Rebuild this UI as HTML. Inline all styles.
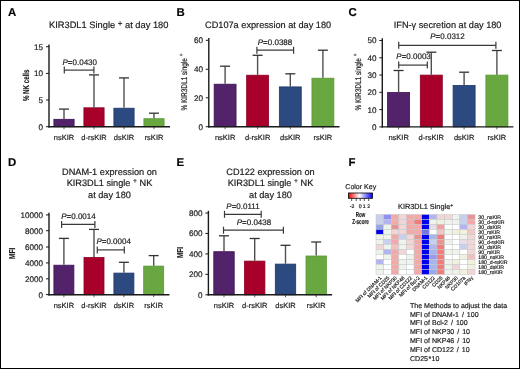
<!DOCTYPE html>
<html><head><meta charset="utf-8"><style>
html,body{margin:0;padding:0;background:#fff;}
body{width:520px;height:369px;overflow:hidden;}
svg{display:block;font-family:"Liberation Sans", sans-serif;will-change:transform;}
text{stroke:#1a1a1a;stroke-width:0.18px;text-rendering:geometricPrecision;}
</style></head><body>
<svg width="520" height="369" viewBox="0 0 520 369">
<rect x="0" y="0" width="520" height="369" fill="#fff"/>
<text x="8" y="16.3" font-size="11.4" text-anchor="start" font-weight="bold" font-style="normal" fill="#000" >A</text>
<text x="176.5" y="16.3" font-size="11.4" text-anchor="start" font-weight="bold" font-style="normal" fill="#000" >B</text>
<text x="348.4" y="16.3" font-size="11.4" text-anchor="start" font-weight="bold" font-style="normal" fill="#000" >C</text>
<text x="8" y="166.4" font-size="11.4" text-anchor="start" font-weight="bold" font-style="normal" fill="#000" >D</text>
<text x="176.5" y="166.4" font-size="11.4" text-anchor="start" font-weight="bold" font-style="normal" fill="#000" >E</text>
<text x="348.5" y="166.4" font-size="11.4" text-anchor="start" font-weight="bold" font-style="normal" fill="#000" >F</text>
<text x="108.7" y="27.5" font-size="9.3" text-anchor="middle" fill="#1a1a1a">KIR3DL1 Single <tspan font-size="8" dy="-1.5">+</tspan><tspan dy="1.5"> at day 180</tspan></text>
<text x="268.1" y="27.5" font-size="9.2" text-anchor="middle" font-weight="normal" font-style="normal" fill="#1a1a1a" >CD107a expression at day 180</text>
<text x="447.6" y="27.5" font-size="9.2" text-anchor="middle" font-weight="normal" font-style="normal" fill="#1a1a1a" >IFN-γ secretion at day 180</text>
<text x="109.5" y="175.0" font-size="9.2" text-anchor="middle" font-weight="normal" font-style="normal" fill="#1a1a1a" >DNAM-1 expression on</text>
<text x="109.5" y="186.2" font-size="9.2" text-anchor="middle" fill="#1a1a1a">KIR3DL1 single <tspan font-size="6.8" dy="-3.2">+</tspan><tspan dy="3.2"> NK</tspan></text>
<text x="109.5" y="197.6" font-size="9.2" text-anchor="middle" font-weight="normal" font-style="normal" fill="#1a1a1a" >at day 180</text>
<text x="270.5" y="175.0" font-size="9.2" text-anchor="middle" font-weight="normal" font-style="normal" fill="#1a1a1a" >CD122 expression on</text>
<text x="270.5" y="186.2" font-size="9.2" text-anchor="middle" fill="#1a1a1a">KIR3DL1 single <tspan font-size="6.8" dy="-3.2">+</tspan><tspan dy="3.2"> NK</tspan></text>
<text x="270.5" y="197.6" font-size="9.2" text-anchor="middle" font-weight="normal" font-style="normal" fill="#1a1a1a" >at day 180</text>
<rect x="53.90" y="119.30" width="20.20" height="7.40" fill="#52236a" stroke="#3d1254" stroke-width="0.8"/>
<line x1="64" y1="118.9" x2="64" y2="109.1" stroke="#505050" stroke-width="1.4"/>
<line x1="59.0" y1="109.1" x2="69.0" y2="109.1" stroke="#333" stroke-width="1.3"/>
<line x1="64" y1="126.7" x2="64" y2="129.2" stroke="#505050" stroke-width="0.9"/>
<rect x="83.90" y="107.80" width="20.20" height="18.90" fill="#a8002b" stroke="#8a0022" stroke-width="0.8"/>
<line x1="94" y1="107.4" x2="94" y2="74.9" stroke="#505050" stroke-width="1.4"/>
<line x1="89.0" y1="74.9" x2="99.0" y2="74.9" stroke="#333" stroke-width="1.3"/>
<line x1="94" y1="126.7" x2="94" y2="129.2" stroke="#505050" stroke-width="0.9"/>
<rect x="113.90" y="108.20" width="20.20" height="18.50" fill="#2d4a80" stroke="#1c3768" stroke-width="0.8"/>
<line x1="124" y1="107.8" x2="124" y2="77.9" stroke="#505050" stroke-width="1.4"/>
<line x1="119.0" y1="77.9" x2="129.0" y2="77.9" stroke="#333" stroke-width="1.3"/>
<line x1="124" y1="126.7" x2="124" y2="129.2" stroke="#505050" stroke-width="0.9"/>
<rect x="143.90" y="118.70" width="20.20" height="8.00" fill="#69a840" stroke="#5a9835" stroke-width="0.8"/>
<line x1="154" y1="118.3" x2="154" y2="113.2" stroke="#505050" stroke-width="1.4"/>
<line x1="149.0" y1="113.2" x2="159.0" y2="113.2" stroke="#333" stroke-width="1.3"/>
<line x1="154" y1="126.7" x2="154" y2="129.2" stroke="#505050" stroke-width="0.9"/>
<line x1="49" y1="44.5" x2="49" y2="127.4" stroke="#1a1a1a" stroke-width="1.4"/>
<line x1="48.3" y1="126.7" x2="170" y2="126.7" stroke="#1a1a1a" stroke-width="1.4"/>
<line x1="46" y1="126.7" x2="49" y2="126.7" stroke="#1a1a1a" stroke-width="1.0"/>
<text x="43.1" y="129.6" font-size="8.1" text-anchor="end" font-weight="normal" font-style="normal" fill="#1a1a1a" >0</text>
<line x1="46" y1="100.0" x2="49" y2="100.0" stroke="#1a1a1a" stroke-width="1.0"/>
<text x="43.1" y="102.9" font-size="8.1" text-anchor="end" font-weight="normal" font-style="normal" fill="#1a1a1a" >5</text>
<line x1="46" y1="73.4" x2="49" y2="73.4" stroke="#1a1a1a" stroke-width="1.0"/>
<text x="43.1" y="76.30000000000001" font-size="8.1" text-anchor="end" font-weight="normal" font-style="normal" fill="#1a1a1a" >10</text>
<line x1="46" y1="46.7" x2="49" y2="46.7" stroke="#1a1a1a" stroke-width="1.0"/>
<text x="43.1" y="49.6" font-size="8.1" text-anchor="end" font-weight="normal" font-style="normal" fill="#1a1a1a" >15</text>
<text x="64" y="139.9" font-size="7.5" text-anchor="middle" font-weight="normal" font-style="normal" fill="#1a1a1a" >nsKIR</text>
<text x="94" y="139.9" font-size="7.5" text-anchor="middle" font-weight="normal" font-style="normal" fill="#1a1a1a" >d-rsKIR</text>
<text x="124" y="139.9" font-size="7.5" text-anchor="middle" font-weight="normal" font-style="normal" fill="#1a1a1a" >dsKIR</text>
<text x="154" y="139.9" font-size="7.5" text-anchor="middle" font-weight="normal" font-style="normal" fill="#1a1a1a" >rsKIR</text>
<line x1="64.3" y1="70.1" x2="93.9" y2="70.1" stroke="#3a3a3a" stroke-width="1.2"/>
<line x1="64.3" y1="66.6" x2="64.3" y2="73.6" stroke="#3a3a3a" stroke-width="1.2"/>
<line x1="93.9" y1="66.6" x2="93.9" y2="73.6" stroke="#3a3a3a" stroke-width="1.2"/>
<text x="62.5" y="64.6" font-size="8.0" text-anchor="start" fill="#1a1a1a"><tspan font-style="italic">P</tspan>=0.0430</text>
<g transform="translate(26.0,85.3) rotate(-90) scale(0.72,1)"><text x="0" y="0" font-size="8.6" text-anchor="middle" font-weight="bold" fill="#1a1a1a" dominant-baseline="central">% NK cells</text></g>
<rect x="214.15" y="84.20" width="21.90" height="42.50" fill="#52236a" stroke="#3d1254" stroke-width="0.8"/>
<line x1="225.1" y1="83.8" x2="225.1" y2="66.2" stroke="#505050" stroke-width="1.4"/>
<line x1="220.1" y1="66.2" x2="230.1" y2="66.2" stroke="#333" stroke-width="1.3"/>
<line x1="225.1" y1="126.7" x2="225.1" y2="129.2" stroke="#505050" stroke-width="0.9"/>
<rect x="246.65" y="75.20" width="21.90" height="51.50" fill="#a8002b" stroke="#8a0022" stroke-width="0.8"/>
<line x1="257.6" y1="74.8" x2="257.6" y2="55.3" stroke="#505050" stroke-width="1.4"/>
<line x1="252.60000000000002" y1="55.3" x2="262.6" y2="55.3" stroke="#333" stroke-width="1.3"/>
<line x1="257.6" y1="126.7" x2="257.6" y2="129.2" stroke="#505050" stroke-width="0.9"/>
<rect x="279.35" y="86.90" width="21.90" height="39.80" fill="#2d4a80" stroke="#1c3768" stroke-width="0.8"/>
<line x1="290.3" y1="86.5" x2="290.3" y2="73.8" stroke="#505050" stroke-width="1.4"/>
<line x1="285.3" y1="73.8" x2="295.3" y2="73.8" stroke="#333" stroke-width="1.3"/>
<line x1="290.3" y1="126.7" x2="290.3" y2="129.2" stroke="#505050" stroke-width="0.9"/>
<rect x="311.95" y="78.20" width="21.90" height="48.50" fill="#69a840" stroke="#5a9835" stroke-width="0.8"/>
<line x1="322.9" y1="77.8" x2="322.9" y2="50.2" stroke="#505050" stroke-width="1.4"/>
<line x1="317.9" y1="50.2" x2="327.9" y2="50.2" stroke="#333" stroke-width="1.3"/>
<line x1="322.9" y1="126.7" x2="322.9" y2="129.2" stroke="#505050" stroke-width="0.9"/>
<line x1="208.8" y1="38.099999999999994" x2="208.8" y2="127.4" stroke="#1a1a1a" stroke-width="1.4"/>
<line x1="208.10000000000002" y1="126.7" x2="339.5" y2="126.7" stroke="#1a1a1a" stroke-width="1.4"/>
<line x1="205.8" y1="126.7" x2="208.8" y2="126.7" stroke="#1a1a1a" stroke-width="1.0"/>
<text x="202.9" y="129.6" font-size="8.1" text-anchor="end" font-weight="normal" font-style="normal" fill="#1a1a1a" >0</text>
<line x1="205.8" y1="97.8" x2="208.8" y2="97.8" stroke="#1a1a1a" stroke-width="1.0"/>
<text x="202.9" y="100.7" font-size="8.1" text-anchor="end" font-weight="normal" font-style="normal" fill="#1a1a1a" >20</text>
<line x1="205.8" y1="69.3" x2="208.8" y2="69.3" stroke="#1a1a1a" stroke-width="1.0"/>
<text x="202.9" y="72.2" font-size="8.1" text-anchor="end" font-weight="normal" font-style="normal" fill="#1a1a1a" >40</text>
<line x1="205.8" y1="40.3" x2="208.8" y2="40.3" stroke="#1a1a1a" stroke-width="1.0"/>
<text x="202.9" y="43.199999999999996" font-size="8.1" text-anchor="end" font-weight="normal" font-style="normal" fill="#1a1a1a" >60</text>
<text x="225.1" y="140.2" font-size="7.5" text-anchor="middle" font-weight="normal" font-style="normal" fill="#1a1a1a" >nsKIR</text>
<text x="257.6" y="140.2" font-size="7.5" text-anchor="middle" font-weight="normal" font-style="normal" fill="#1a1a1a" >d-rsKIR</text>
<text x="290.3" y="140.2" font-size="7.5" text-anchor="middle" font-weight="normal" font-style="normal" fill="#1a1a1a" >dsKIR</text>
<text x="322.9" y="140.2" font-size="7.5" text-anchor="middle" font-weight="normal" font-style="normal" fill="#1a1a1a" >rsKIR</text>
<line x1="256.9" y1="50.2" x2="293.6" y2="50.2" stroke="#3a3a3a" stroke-width="1.2"/>
<line x1="256.9" y1="46.7" x2="256.9" y2="53.7" stroke="#3a3a3a" stroke-width="1.2"/>
<line x1="293.6" y1="46.7" x2="293.6" y2="53.7" stroke="#3a3a3a" stroke-width="1.2"/>
<text x="275" y="44.5" font-size="8.0" text-anchor="middle" fill="#1a1a1a"><tspan font-style="italic">P</tspan>=0.0388</text>
<g transform="translate(184.4,82.1) rotate(-90) scale(0.78,1)"><text x="0" y="0" font-size="8.3" text-anchor="middle" font-weight="normal" fill="#1a1a1a" dominant-baseline="central">% KIR3DL1 single <tspan font-size="5.8" dy="-2.0">+</tspan></text></g>
<rect x="387.60" y="92.50" width="22.00" height="34.40" fill="#52236a" stroke="#3d1254" stroke-width="0.8"/>
<line x1="398.6" y1="92.1" x2="398.6" y2="70.5" stroke="#505050" stroke-width="1.4"/>
<line x1="393.6" y1="70.5" x2="403.6" y2="70.5" stroke="#333" stroke-width="1.3"/>
<line x1="398.6" y1="126.9" x2="398.6" y2="129.4" stroke="#505050" stroke-width="0.9"/>
<rect x="420.30" y="75.10" width="22.00" height="51.80" fill="#a8002b" stroke="#8a0022" stroke-width="0.8"/>
<line x1="431.3" y1="74.7" x2="431.3" y2="52.2" stroke="#505050" stroke-width="1.4"/>
<line x1="426.3" y1="52.2" x2="436.3" y2="52.2" stroke="#333" stroke-width="1.3"/>
<line x1="431.3" y1="126.9" x2="431.3" y2="129.4" stroke="#505050" stroke-width="0.9"/>
<rect x="453.10" y="85.40" width="22.00" height="41.50" fill="#2d4a80" stroke="#1c3768" stroke-width="0.8"/>
<line x1="464.1" y1="85.0" x2="464.1" y2="72.2" stroke="#505050" stroke-width="1.4"/>
<line x1="459.1" y1="72.2" x2="469.1" y2="72.2" stroke="#333" stroke-width="1.3"/>
<line x1="464.1" y1="126.9" x2="464.1" y2="129.4" stroke="#505050" stroke-width="0.9"/>
<rect x="485.90" y="75.10" width="22.00" height="51.80" fill="#69a840" stroke="#5a9835" stroke-width="0.8"/>
<line x1="496.9" y1="74.7" x2="496.9" y2="50.5" stroke="#505050" stroke-width="1.4"/>
<line x1="491.9" y1="50.5" x2="501.9" y2="50.5" stroke="#333" stroke-width="1.3"/>
<line x1="496.9" y1="126.9" x2="496.9" y2="129.4" stroke="#505050" stroke-width="0.9"/>
<line x1="382.3" y1="38.3" x2="382.3" y2="127.60000000000001" stroke="#1a1a1a" stroke-width="1.4"/>
<line x1="381.6" y1="126.9" x2="513.4" y2="126.9" stroke="#1a1a1a" stroke-width="1.4"/>
<line x1="379.3" y1="126.9" x2="382.3" y2="126.9" stroke="#1a1a1a" stroke-width="1.0"/>
<text x="376.40000000000003" y="129.8" font-size="8.1" text-anchor="end" font-weight="normal" font-style="normal" fill="#1a1a1a" >0</text>
<line x1="379.3" y1="109.62" x2="382.3" y2="109.62" stroke="#1a1a1a" stroke-width="1.0"/>
<text x="376.40000000000003" y="112.52000000000001" font-size="8.1" text-anchor="end" font-weight="normal" font-style="normal" fill="#1a1a1a" >10</text>
<line x1="379.3" y1="92.34" x2="382.3" y2="92.34" stroke="#1a1a1a" stroke-width="1.0"/>
<text x="376.40000000000003" y="95.24000000000001" font-size="8.1" text-anchor="end" font-weight="normal" font-style="normal" fill="#1a1a1a" >20</text>
<line x1="379.3" y1="75.06" x2="382.3" y2="75.06" stroke="#1a1a1a" stroke-width="1.0"/>
<text x="376.40000000000003" y="77.96000000000001" font-size="8.1" text-anchor="end" font-weight="normal" font-style="normal" fill="#1a1a1a" >30</text>
<line x1="379.3" y1="57.78" x2="382.3" y2="57.78" stroke="#1a1a1a" stroke-width="1.0"/>
<text x="376.40000000000003" y="60.68" font-size="8.1" text-anchor="end" font-weight="normal" font-style="normal" fill="#1a1a1a" >40</text>
<line x1="379.3" y1="40.5" x2="382.3" y2="40.5" stroke="#1a1a1a" stroke-width="1.0"/>
<text x="376.40000000000003" y="43.4" font-size="8.1" text-anchor="end" font-weight="normal" font-style="normal" fill="#1a1a1a" >50</text>
<text x="398.6" y="140.2" font-size="7.5" text-anchor="middle" font-weight="normal" font-style="normal" fill="#1a1a1a" >nsKIR</text>
<text x="431.3" y="140.2" font-size="7.5" text-anchor="middle" font-weight="normal" font-style="normal" fill="#1a1a1a" >d-rsKIR</text>
<text x="464.1" y="140.2" font-size="7.5" text-anchor="middle" font-weight="normal" font-style="normal" fill="#1a1a1a" >dsKIR</text>
<text x="496.9" y="140.2" font-size="7.5" text-anchor="middle" font-weight="normal" font-style="normal" fill="#1a1a1a" >rsKIR</text>
<line x1="398.7" y1="45.3" x2="495.9" y2="45.3" stroke="#3a3a3a" stroke-width="1.2"/>
<line x1="398.7" y1="41.8" x2="398.7" y2="48.8" stroke="#3a3a3a" stroke-width="1.2"/>
<line x1="495.9" y1="41.8" x2="495.9" y2="48.8" stroke="#3a3a3a" stroke-width="1.2"/>
<text x="447.5" y="39.1" font-size="8.0" text-anchor="middle" fill="#1a1a1a"><tspan font-style="italic">P</tspan>=0.0312</text>
<line x1="398.7" y1="65.1" x2="427.3" y2="65.1" stroke="#3a3a3a" stroke-width="1.2"/>
<line x1="398.7" y1="61.599999999999994" x2="398.7" y2="68.6" stroke="#3a3a3a" stroke-width="1.2"/>
<line x1="427.3" y1="61.599999999999994" x2="427.3" y2="68.6" stroke="#3a3a3a" stroke-width="1.2"/>
<text x="396.3" y="59.3" font-size="8.0" text-anchor="start" fill="#1a1a1a"><tspan font-style="italic">P</tspan>=0.0003</text>
<g transform="translate(358.4,82.1) rotate(-90) scale(0.78,1)"><text x="0" y="0" font-size="8.3" text-anchor="middle" font-weight="normal" fill="#1a1a1a" dominant-baseline="central">% KIR3DL1 single <tspan font-size="5.8" dy="-2.0">+</tspan></text></g>
<rect x="53.90" y="265.20" width="20.00" height="29.50" fill="#52236a" stroke="#3d1254" stroke-width="0.8"/>
<line x1="63.9" y1="264.8" x2="63.9" y2="238.4" stroke="#505050" stroke-width="1.4"/>
<line x1="58.9" y1="238.4" x2="68.9" y2="238.4" stroke="#333" stroke-width="1.3"/>
<line x1="63.9" y1="294.7" x2="63.9" y2="297.2" stroke="#505050" stroke-width="0.9"/>
<rect x="84.00" y="257.50" width="20.00" height="37.20" fill="#a8002b" stroke="#8a0022" stroke-width="0.8"/>
<line x1="94" y1="257.1" x2="94" y2="229.4" stroke="#505050" stroke-width="1.4"/>
<line x1="89.0" y1="229.4" x2="99.0" y2="229.4" stroke="#333" stroke-width="1.3"/>
<line x1="94" y1="294.7" x2="94" y2="297.2" stroke="#505050" stroke-width="0.9"/>
<rect x="113.90" y="273.10" width="20.00" height="21.60" fill="#2d4a80" stroke="#1c3768" stroke-width="0.8"/>
<line x1="123.9" y1="272.7" x2="123.9" y2="262.3" stroke="#505050" stroke-width="1.4"/>
<line x1="118.9" y1="262.3" x2="128.9" y2="262.3" stroke="#333" stroke-width="1.3"/>
<line x1="123.9" y1="294.7" x2="123.9" y2="297.2" stroke="#505050" stroke-width="0.9"/>
<rect x="143.70" y="266.10" width="20.00" height="28.60" fill="#69a840" stroke="#5a9835" stroke-width="0.8"/>
<line x1="153.7" y1="265.7" x2="153.7" y2="255.6" stroke="#505050" stroke-width="1.4"/>
<line x1="148.7" y1="255.6" x2="158.7" y2="255.6" stroke="#333" stroke-width="1.3"/>
<line x1="153.7" y1="294.7" x2="153.7" y2="297.2" stroke="#505050" stroke-width="0.9"/>
<line x1="49.0" y1="212.70000000000002" x2="49.0" y2="295.4" stroke="#1a1a1a" stroke-width="1.4"/>
<line x1="48.3" y1="294.7" x2="169.4" y2="294.7" stroke="#1a1a1a" stroke-width="1.4"/>
<line x1="46.0" y1="294.6" x2="49.0" y2="294.6" stroke="#1a1a1a" stroke-width="1.0"/>
<text x="43.1" y="297.5" font-size="8.1" text-anchor="end" font-weight="normal" font-style="normal" fill="#1a1a1a" >0</text>
<line x1="46.0" y1="278.8" x2="49.0" y2="278.8" stroke="#1a1a1a" stroke-width="1.0"/>
<text x="43.1" y="281.7" font-size="8.1" text-anchor="end" font-weight="normal" font-style="normal" fill="#1a1a1a" >2000</text>
<line x1="46.0" y1="262.9" x2="49.0" y2="262.9" stroke="#1a1a1a" stroke-width="1.0"/>
<text x="43.1" y="265.79999999999995" font-size="8.1" text-anchor="end" font-weight="normal" font-style="normal" fill="#1a1a1a" >4000</text>
<line x1="46.0" y1="247.0" x2="49.0" y2="247.0" stroke="#1a1a1a" stroke-width="1.0"/>
<text x="43.1" y="249.9" font-size="8.1" text-anchor="end" font-weight="normal" font-style="normal" fill="#1a1a1a" >6000</text>
<line x1="46.0" y1="230.7" x2="49.0" y2="230.7" stroke="#1a1a1a" stroke-width="1.0"/>
<text x="43.1" y="233.6" font-size="8.1" text-anchor="end" font-weight="normal" font-style="normal" fill="#1a1a1a" >8000</text>
<line x1="46.0" y1="214.9" x2="49.0" y2="214.9" stroke="#1a1a1a" stroke-width="1.0"/>
<text x="43.1" y="217.8" font-size="8.1" text-anchor="end" font-weight="normal" font-style="normal" fill="#1a1a1a" >10000</text>
<text x="63.9" y="308.0" font-size="7.5" text-anchor="middle" font-weight="normal" font-style="normal" fill="#1a1a1a" >nsKIR</text>
<text x="94" y="308.0" font-size="7.5" text-anchor="middle" font-weight="normal" font-style="normal" fill="#1a1a1a" >d-rsKIR</text>
<text x="123.9" y="308.0" font-size="7.5" text-anchor="middle" font-weight="normal" font-style="normal" fill="#1a1a1a" >dsKIR</text>
<text x="153.7" y="308.0" font-size="7.5" text-anchor="middle" font-weight="normal" font-style="normal" fill="#1a1a1a" >rsKIR</text>
<line x1="61.6" y1="224.4" x2="94.9" y2="224.4" stroke="#3a3a3a" stroke-width="1.2"/>
<line x1="61.6" y1="220.9" x2="61.6" y2="227.9" stroke="#3a3a3a" stroke-width="1.2"/>
<line x1="94.9" y1="220.9" x2="94.9" y2="227.9" stroke="#3a3a3a" stroke-width="1.2"/>
<text x="61.2" y="218.9" font-size="8.0" text-anchor="start" fill="#1a1a1a"><tspan font-style="italic">P</tspan>=0.0014</text>
<line x1="97.3" y1="249.9" x2="124.3" y2="249.9" stroke="#3a3a3a" stroke-width="1.2"/>
<line x1="97.3" y1="246.4" x2="97.3" y2="253.4" stroke="#3a3a3a" stroke-width="1.2"/>
<line x1="124.3" y1="246.4" x2="124.3" y2="253.4" stroke="#3a3a3a" stroke-width="1.2"/>
<text x="96.4" y="244.2" font-size="8.0" text-anchor="start" fill="#1a1a1a"><tspan font-style="italic">P</tspan>=0.0004</text>
<g transform="translate(11.6,253.4) rotate(-90) scale(0.76,1)"><text x="0" y="0" font-size="8.6" text-anchor="middle" font-weight="bold" fill="#1a1a1a" dominant-baseline="central">MFI</text></g>
<rect x="213.80" y="251.70" width="20.40" height="43.10" fill="#52236a" stroke="#3d1254" stroke-width="0.8"/>
<line x1="224" y1="251.3" x2="224" y2="235.8" stroke="#505050" stroke-width="1.4"/>
<line x1="219.0" y1="235.8" x2="229.0" y2="235.8" stroke="#333" stroke-width="1.3"/>
<line x1="224" y1="294.8" x2="224" y2="297.3" stroke="#505050" stroke-width="0.9"/>
<rect x="244.50" y="261.10" width="20.40" height="33.70" fill="#a8002b" stroke="#8a0022" stroke-width="0.8"/>
<line x1="254.7" y1="260.7" x2="254.7" y2="238.5" stroke="#505050" stroke-width="1.4"/>
<line x1="249.7" y1="238.5" x2="259.7" y2="238.5" stroke="#333" stroke-width="1.3"/>
<line x1="254.7" y1="294.8" x2="254.7" y2="297.3" stroke="#505050" stroke-width="0.9"/>
<rect x="275.30" y="264.10" width="20.40" height="30.70" fill="#2d4a80" stroke="#1c3768" stroke-width="0.8"/>
<line x1="285.5" y1="263.7" x2="285.5" y2="245.3" stroke="#505050" stroke-width="1.4"/>
<line x1="280.5" y1="245.3" x2="290.5" y2="245.3" stroke="#333" stroke-width="1.3"/>
<line x1="285.5" y1="294.8" x2="285.5" y2="297.3" stroke="#505050" stroke-width="0.9"/>
<rect x="306.00" y="256.00" width="20.40" height="38.80" fill="#69a840" stroke="#5a9835" stroke-width="0.8"/>
<line x1="316.2" y1="255.6" x2="316.2" y2="242.0" stroke="#505050" stroke-width="1.4"/>
<line x1="311.2" y1="242.0" x2="321.2" y2="242.0" stroke="#333" stroke-width="1.3"/>
<line x1="316.2" y1="294.8" x2="316.2" y2="297.3" stroke="#505050" stroke-width="0.9"/>
<line x1="208.4" y1="210.8" x2="208.4" y2="295.5" stroke="#1a1a1a" stroke-width="1.4"/>
<line x1="207.70000000000002" y1="294.8" x2="332.1" y2="294.8" stroke="#1a1a1a" stroke-width="1.4"/>
<line x1="205.4" y1="294.8" x2="208.4" y2="294.8" stroke="#1a1a1a" stroke-width="1.0"/>
<text x="202.5" y="297.7" font-size="8.1" text-anchor="end" font-weight="normal" font-style="normal" fill="#1a1a1a" >0</text>
<line x1="205.4" y1="274.35" x2="208.4" y2="274.35" stroke="#1a1a1a" stroke-width="1.0"/>
<text x="202.5" y="277.25" font-size="8.1" text-anchor="end" font-weight="normal" font-style="normal" fill="#1a1a1a" >200</text>
<line x1="205.4" y1="253.9" x2="208.4" y2="253.9" stroke="#1a1a1a" stroke-width="1.0"/>
<text x="202.5" y="256.8" font-size="8.1" text-anchor="end" font-weight="normal" font-style="normal" fill="#1a1a1a" >400</text>
<line x1="205.4" y1="233.45000000000002" x2="208.4" y2="233.45000000000002" stroke="#1a1a1a" stroke-width="1.0"/>
<text x="202.5" y="236.35000000000002" font-size="8.1" text-anchor="end" font-weight="normal" font-style="normal" fill="#1a1a1a" >600</text>
<line x1="205.4" y1="213.0" x2="208.4" y2="213.0" stroke="#1a1a1a" stroke-width="1.0"/>
<text x="202.5" y="215.9" font-size="8.1" text-anchor="end" font-weight="normal" font-style="normal" fill="#1a1a1a" >800</text>
<text x="224" y="308.0" font-size="7.5" text-anchor="middle" font-weight="normal" font-style="normal" fill="#1a1a1a" >nsKIR</text>
<text x="254.7" y="308.0" font-size="7.5" text-anchor="middle" font-weight="normal" font-style="normal" fill="#1a1a1a" >d-rsKIR</text>
<text x="285.5" y="308.0" font-size="7.5" text-anchor="middle" font-weight="normal" font-style="normal" fill="#1a1a1a" >dsKIR</text>
<text x="316.2" y="308.0" font-size="7.5" text-anchor="middle" font-weight="normal" font-style="normal" fill="#1a1a1a" >rsKIR</text>
<line x1="224.5" y1="214.3" x2="261.2" y2="214.3" stroke="#3a3a3a" stroke-width="1.2"/>
<line x1="224.5" y1="210.8" x2="224.5" y2="217.8" stroke="#3a3a3a" stroke-width="1.2"/>
<line x1="261.2" y1="210.8" x2="261.2" y2="217.8" stroke="#3a3a3a" stroke-width="1.2"/>
<text x="226.3" y="209.0" font-size="8.0" text-anchor="start" fill="#1a1a1a"><tspan font-style="italic">P</tspan>=0.0111</text>
<line x1="223.5" y1="230.2" x2="283.4" y2="230.2" stroke="#3a3a3a" stroke-width="1.2"/>
<line x1="223.5" y1="226.7" x2="223.5" y2="233.7" stroke="#3a3a3a" stroke-width="1.2"/>
<line x1="283.4" y1="226.7" x2="283.4" y2="233.7" stroke="#3a3a3a" stroke-width="1.2"/>
<text x="236.7" y="225.2" font-size="8.0" text-anchor="start" fill="#1a1a1a"><tspan font-style="italic">P</tspan>=0.0438</text>
<g transform="translate(180.3,252.5) rotate(-90) scale(0.76,1)"><text x="0" y="0" font-size="8.6" text-anchor="middle" font-weight="bold" fill="#1a1a1a" dominant-baseline="central">MFI</text></g>
<defs><linearGradient id="ck" x1="0" x2="1" y1="0" y2="0"><stop offset="0" stop-color="#ff0000"/><stop offset="0.45" stop-color="#ffffff"/><stop offset="1" stop-color="#0000ff"/></linearGradient></defs>
<text x="345.3" y="188.6" font-size="7.05" text-anchor="start" font-weight="normal" font-style="normal" fill="#1a1a1a" >Color Key</text>
<rect x="348.5" y="193" width="24" height="5.3" fill="url(#ck)" stroke="#000" stroke-width="0.8"/>
<line x1="351.7" y1="198.3" x2="351.7" y2="201.0" stroke="#222" stroke-width="0.8"/>
<line x1="356.2" y1="198.3" x2="356.2" y2="201.0" stroke="#222" stroke-width="0.8"/>
<line x1="360.2" y1="198.3" x2="360.2" y2="201.0" stroke="#222" stroke-width="0.8"/>
<line x1="364.3" y1="198.3" x2="364.3" y2="201.0" stroke="#222" stroke-width="0.8"/>
<line x1="368.7" y1="198.3" x2="368.7" y2="201.0" stroke="#222" stroke-width="0.8"/>
<text x="352" y="207.5" font-size="5.2" text-anchor="middle" font-weight="normal" font-style="normal" fill="#1a1a1a" >-2</text>
<text x="360.2" y="207.5" font-size="5.2" text-anchor="middle" font-weight="normal" font-style="normal" fill="#1a1a1a" >0</text>
<text x="364.3" y="207.5" font-size="5.2" text-anchor="middle" font-weight="normal" font-style="normal" fill="#1a1a1a" >1</text>
<text x="368.7" y="207.5" font-size="5.2" text-anchor="middle" font-weight="normal" font-style="normal" fill="#1a1a1a" >2</text>
<text x="360.6" y="217.2" font-size="7.2" text-anchor="middle" font-weight="bold" font-style="normal" fill="#1a1a1a" transform="translate(360.6,0) scale(0.63,1) translate(-360.6,0)">Row</text>
<text x="360.5" y="224.2" font-size="7.2" text-anchor="middle" font-weight="bold" font-style="normal" fill="#1a1a1a" transform="translate(360.5,0) scale(0.64,1) translate(-360.5,0)">Z-score</text>
<text x="398" y="209.1" font-size="7.35" fill="#1a1a1a">KIR3DL1 Single<tspan font-size="5.2" dy="-2.6">+</tspan></text>
<rect x="376.00" y="214.50" width="7.62" height="5.00" fill="#c8d0ee" stroke="#c4c8c8" stroke-width="0.5"/>
<rect x="383.62" y="214.50" width="7.62" height="5.00" fill="#9090ee" stroke="#c4c8c8" stroke-width="0.5"/>
<rect x="391.24" y="214.50" width="7.62" height="5.00" fill="#f4a8a8" stroke="#c4c8c8" stroke-width="0.5"/>
<rect x="398.86" y="214.50" width="7.62" height="5.00" fill="#f0d6d6" stroke="#c4c8c8" stroke-width="0.5"/>
<rect x="406.48" y="214.50" width="7.62" height="5.00" fill="#f4a8a8" stroke="#c4c8c8" stroke-width="0.5"/>
<rect x="414.10" y="214.50" width="7.62" height="5.00" fill="#f4a8a8" stroke="#c4c8c8" stroke-width="0.5"/>
<rect x="421.72" y="214.50" width="7.62" height="5.00" fill="#0000ee" stroke="#c4c8c8" stroke-width="0.5"/>
<rect x="429.34" y="214.50" width="7.62" height="5.00" fill="#b4b4f0" stroke="#c4c8c8" stroke-width="0.5"/>
<rect x="436.96" y="214.50" width="7.62" height="5.00" fill="#f0d6d6" stroke="#c4c8c8" stroke-width="0.5"/>
<rect x="444.58" y="214.50" width="7.62" height="5.00" fill="#f0d6d6" stroke="#c4c8c8" stroke-width="0.5"/>
<rect x="452.20" y="214.50" width="7.62" height="5.00" fill="#eef4ec" stroke="#c4c8c8" stroke-width="0.5"/>
<rect x="459.82" y="214.50" width="7.62" height="5.00" fill="#c8d0ee" stroke="#c4c8c8" stroke-width="0.5"/>
<rect x="467.44" y="214.50" width="7.62" height="5.00" fill="#e89494" stroke="#c4c8c8" stroke-width="0.5"/>
<rect x="376.00" y="219.50" width="7.62" height="5.00" fill="#c8d0ee" stroke="#c4c8c8" stroke-width="0.5"/>
<rect x="383.62" y="219.50" width="7.62" height="5.00" fill="#b4b4f0" stroke="#c4c8c8" stroke-width="0.5"/>
<rect x="391.24" y="219.50" width="7.62" height="5.00" fill="#f4a8a8" stroke="#c4c8c8" stroke-width="0.5"/>
<rect x="398.86" y="219.50" width="7.62" height="5.00" fill="#f0d6d6" stroke="#c4c8c8" stroke-width="0.5"/>
<rect x="406.48" y="219.50" width="7.62" height="5.00" fill="#f4a8a8" stroke="#c4c8c8" stroke-width="0.5"/>
<rect x="414.10" y="219.50" width="7.62" height="5.00" fill="#f07c7c" stroke="#c4c8c8" stroke-width="0.5"/>
<rect x="421.72" y="219.50" width="7.62" height="5.00" fill="#0000ee" stroke="#c4c8c8" stroke-width="0.5"/>
<rect x="429.34" y="219.50" width="7.62" height="5.00" fill="#eef4ec" stroke="#c4c8c8" stroke-width="0.5"/>
<rect x="436.96" y="219.50" width="7.62" height="5.00" fill="#f2f0de" stroke="#c4c8c8" stroke-width="0.5"/>
<rect x="444.58" y="219.50" width="7.62" height="5.00" fill="#eef4ec" stroke="#c4c8c8" stroke-width="0.5"/>
<rect x="452.20" y="219.50" width="7.62" height="5.00" fill="#eef4ec" stroke="#c4c8c8" stroke-width="0.5"/>
<rect x="459.82" y="219.50" width="7.62" height="5.00" fill="#c8d0ee" stroke="#c4c8c8" stroke-width="0.5"/>
<rect x="467.44" y="219.50" width="7.62" height="5.00" fill="#f4a8a8" stroke="#c4c8c8" stroke-width="0.5"/>
<rect x="376.00" y="224.50" width="7.62" height="5.00" fill="#98a4ea" stroke="#c4c8c8" stroke-width="0.5"/>
<rect x="383.62" y="224.50" width="7.62" height="5.00" fill="#eef4ec" stroke="#c4c8c8" stroke-width="0.5"/>
<rect x="391.24" y="224.50" width="7.62" height="5.00" fill="#e89494" stroke="#c4c8c8" stroke-width="0.5"/>
<rect x="398.86" y="224.50" width="7.62" height="5.00" fill="#f0d6d6" stroke="#c4c8c8" stroke-width="0.5"/>
<rect x="406.48" y="224.50" width="7.62" height="5.00" fill="#f4a8a8" stroke="#c4c8c8" stroke-width="0.5"/>
<rect x="414.10" y="224.50" width="7.62" height="5.00" fill="#f4a8a8" stroke="#c4c8c8" stroke-width="0.5"/>
<rect x="421.72" y="224.50" width="7.62" height="5.00" fill="#0000ee" stroke="#c4c8c8" stroke-width="0.5"/>
<rect x="429.34" y="224.50" width="7.62" height="5.00" fill="#e8dce8" stroke="#c4c8c8" stroke-width="0.5"/>
<rect x="436.96" y="224.50" width="7.62" height="5.00" fill="#f4a0a0" stroke="#c4c8c8" stroke-width="0.5"/>
<rect x="444.58" y="224.50" width="7.62" height="5.00" fill="#ffffff" stroke="#c4c8c8" stroke-width="0.5"/>
<rect x="452.20" y="224.50" width="7.62" height="5.00" fill="#ffffff" stroke="#c4c8c8" stroke-width="0.5"/>
<rect x="459.82" y="224.50" width="7.62" height="5.00" fill="#b4b4f0" stroke="#c4c8c8" stroke-width="0.5"/>
<rect x="467.44" y="224.50" width="7.62" height="5.00" fill="#f0d6d6" stroke="#c4c8c8" stroke-width="0.5"/>
<rect x="376.00" y="229.50" width="7.62" height="5.00" fill="#0000ee" stroke="#c4c8c8" stroke-width="0.5"/>
<rect x="383.62" y="229.50" width="7.62" height="5.00" fill="#eef4ec" stroke="#c4c8c8" stroke-width="0.5"/>
<rect x="391.24" y="229.50" width="7.62" height="5.00" fill="#f0d6d6" stroke="#c4c8c8" stroke-width="0.5"/>
<rect x="398.86" y="229.50" width="7.62" height="5.00" fill="#f0d6d6" stroke="#c4c8c8" stroke-width="0.5"/>
<rect x="406.48" y="229.50" width="7.62" height="5.00" fill="#f4a8a8" stroke="#c4c8c8" stroke-width="0.5"/>
<rect x="414.10" y="229.50" width="7.62" height="5.00" fill="#f4a8a8" stroke="#c4c8c8" stroke-width="0.5"/>
<rect x="421.72" y="229.50" width="7.62" height="5.00" fill="#7474e2" stroke="#c4c8c8" stroke-width="0.5"/>
<rect x="429.34" y="229.50" width="7.62" height="5.00" fill="#ffffff" stroke="#c4c8c8" stroke-width="0.5"/>
<rect x="436.96" y="229.50" width="7.62" height="5.00" fill="#f0c4c4" stroke="#c4c8c8" stroke-width="0.5"/>
<rect x="444.58" y="229.50" width="7.62" height="5.00" fill="#eef4ec" stroke="#c4c8c8" stroke-width="0.5"/>
<rect x="452.20" y="229.50" width="7.62" height="5.00" fill="#f2f0de" stroke="#c4c8c8" stroke-width="0.5"/>
<rect x="459.82" y="229.50" width="7.62" height="5.00" fill="#f2f0de" stroke="#c4c8c8" stroke-width="0.5"/>
<rect x="467.44" y="229.50" width="7.62" height="5.00" fill="#f0c8c8" stroke="#c4c8c8" stroke-width="0.5"/>
<rect x="376.00" y="234.50" width="7.62" height="5.00" fill="#eef4ec" stroke="#c4c8c8" stroke-width="0.5"/>
<rect x="383.62" y="234.50" width="7.62" height="5.00" fill="#eef4ec" stroke="#c4c8c8" stroke-width="0.5"/>
<rect x="391.24" y="234.50" width="7.62" height="5.00" fill="#f4a8a8" stroke="#c4c8c8" stroke-width="0.5"/>
<rect x="398.86" y="234.50" width="7.62" height="5.00" fill="#c8d0ee" stroke="#c4c8c8" stroke-width="0.5"/>
<rect x="406.48" y="234.50" width="7.62" height="5.00" fill="#f0d6d6" stroke="#c4c8c8" stroke-width="0.5"/>
<rect x="414.10" y="234.50" width="7.62" height="5.00" fill="#e89494" stroke="#c4c8c8" stroke-width="0.5"/>
<rect x="421.72" y="234.50" width="7.62" height="5.00" fill="#0000ee" stroke="#c4c8c8" stroke-width="0.5"/>
<rect x="429.34" y="234.50" width="7.62" height="5.00" fill="#a8b4f0" stroke="#c4c8c8" stroke-width="0.5"/>
<rect x="436.96" y="234.50" width="7.62" height="5.00" fill="#f07c7c" stroke="#c4c8c8" stroke-width="0.5"/>
<rect x="444.58" y="234.50" width="7.62" height="5.00" fill="#ffffff" stroke="#c4c8c8" stroke-width="0.5"/>
<rect x="452.20" y="234.50" width="7.62" height="5.00" fill="#ffffff" stroke="#c4c8c8" stroke-width="0.5"/>
<rect x="459.82" y="234.50" width="7.62" height="5.00" fill="#eef4ec" stroke="#c4c8c8" stroke-width="0.5"/>
<rect x="467.44" y="234.50" width="7.62" height="5.00" fill="#f0d6d6" stroke="#c4c8c8" stroke-width="0.5"/>
<rect x="376.00" y="239.50" width="7.62" height="5.00" fill="#eef4ec" stroke="#c4c8c8" stroke-width="0.5"/>
<rect x="383.62" y="239.50" width="7.62" height="5.00" fill="#c8d0ee" stroke="#c4c8c8" stroke-width="0.5"/>
<rect x="391.24" y="239.50" width="7.62" height="5.00" fill="#f4a8a8" stroke="#c4c8c8" stroke-width="0.5"/>
<rect x="398.86" y="239.50" width="7.62" height="5.00" fill="#eef4ec" stroke="#c4c8c8" stroke-width="0.5"/>
<rect x="406.48" y="239.50" width="7.62" height="5.00" fill="#f0d6d6" stroke="#c4c8c8" stroke-width="0.5"/>
<rect x="414.10" y="239.50" width="7.62" height="5.00" fill="#f4a8a8" stroke="#c4c8c8" stroke-width="0.5"/>
<rect x="421.72" y="239.50" width="7.62" height="5.00" fill="#0000ee" stroke="#c4c8c8" stroke-width="0.5"/>
<rect x="429.34" y="239.50" width="7.62" height="5.00" fill="#c8d0ee" stroke="#c4c8c8" stroke-width="0.5"/>
<rect x="436.96" y="239.50" width="7.62" height="5.00" fill="#e89494" stroke="#c4c8c8" stroke-width="0.5"/>
<rect x="444.58" y="239.50" width="7.62" height="5.00" fill="#eef4ec" stroke="#c4c8c8" stroke-width="0.5"/>
<rect x="452.20" y="239.50" width="7.62" height="5.00" fill="#ffffff" stroke="#c4c8c8" stroke-width="0.5"/>
<rect x="459.82" y="239.50" width="7.62" height="5.00" fill="#e8dce8" stroke="#c4c8c8" stroke-width="0.5"/>
<rect x="467.44" y="239.50" width="7.62" height="5.00" fill="#f0d6d6" stroke="#c4c8c8" stroke-width="0.5"/>
<rect x="376.00" y="244.50" width="7.62" height="5.00" fill="#f0d6d6" stroke="#c4c8c8" stroke-width="0.5"/>
<rect x="383.62" y="244.50" width="7.62" height="5.00" fill="#eef4ec" stroke="#c4c8c8" stroke-width="0.5"/>
<rect x="391.24" y="244.50" width="7.62" height="5.00" fill="#f0c0c0" stroke="#c4c8c8" stroke-width="0.5"/>
<rect x="398.86" y="244.50" width="7.62" height="5.00" fill="#eef4ec" stroke="#c4c8c8" stroke-width="0.5"/>
<rect x="406.48" y="244.50" width="7.62" height="5.00" fill="#f0d6d6" stroke="#c4c8c8" stroke-width="0.5"/>
<rect x="414.10" y="244.50" width="7.62" height="5.00" fill="#f4a8a8" stroke="#c4c8c8" stroke-width="0.5"/>
<rect x="421.72" y="244.50" width="7.62" height="5.00" fill="#0000ee" stroke="#c4c8c8" stroke-width="0.5"/>
<rect x="429.34" y="244.50" width="7.62" height="5.00" fill="#b4b4f0" stroke="#c4c8c8" stroke-width="0.5"/>
<rect x="436.96" y="244.50" width="7.62" height="5.00" fill="#f07c7c" stroke="#c4c8c8" stroke-width="0.5"/>
<rect x="444.58" y="244.50" width="7.62" height="5.00" fill="#ffffff" stroke="#c4c8c8" stroke-width="0.5"/>
<rect x="452.20" y="244.50" width="7.62" height="5.00" fill="#ffffff" stroke="#c4c8c8" stroke-width="0.5"/>
<rect x="459.82" y="244.50" width="7.62" height="5.00" fill="#c8d0ee" stroke="#c4c8c8" stroke-width="0.5"/>
<rect x="467.44" y="244.50" width="7.62" height="5.00" fill="#f0d6d6" stroke="#c4c8c8" stroke-width="0.5"/>
<rect x="376.00" y="249.50" width="7.62" height="5.00" fill="#eef4ec" stroke="#c4c8c8" stroke-width="0.5"/>
<rect x="383.62" y="249.50" width="7.62" height="5.00" fill="#b4b4f0" stroke="#c4c8c8" stroke-width="0.5"/>
<rect x="391.24" y="249.50" width="7.62" height="5.00" fill="#f4a8a8" stroke="#c4c8c8" stroke-width="0.5"/>
<rect x="398.86" y="249.50" width="7.62" height="5.00" fill="#f0d6d6" stroke="#c4c8c8" stroke-width="0.5"/>
<rect x="406.48" y="249.50" width="7.62" height="5.00" fill="#ffffff" stroke="#c4c8c8" stroke-width="0.5"/>
<rect x="414.10" y="249.50" width="7.62" height="5.00" fill="#f4a8a8" stroke="#c4c8c8" stroke-width="0.5"/>
<rect x="421.72" y="249.50" width="7.62" height="5.00" fill="#0000ee" stroke="#c4c8c8" stroke-width="0.5"/>
<rect x="429.34" y="249.50" width="7.62" height="5.00" fill="#a8b4f0" stroke="#c4c8c8" stroke-width="0.5"/>
<rect x="436.96" y="249.50" width="7.62" height="5.00" fill="#f07c7c" stroke="#c4c8c8" stroke-width="0.5"/>
<rect x="444.58" y="249.50" width="7.62" height="5.00" fill="#eef4ec" stroke="#c4c8c8" stroke-width="0.5"/>
<rect x="452.20" y="249.50" width="7.62" height="5.00" fill="#eef4ec" stroke="#c4c8c8" stroke-width="0.5"/>
<rect x="459.82" y="249.50" width="7.62" height="5.00" fill="#ffffff" stroke="#c4c8c8" stroke-width="0.5"/>
<rect x="467.44" y="249.50" width="7.62" height="5.00" fill="#f0d6d6" stroke="#c4c8c8" stroke-width="0.5"/>
<rect x="376.00" y="254.50" width="7.62" height="5.00" fill="#ffffff" stroke="#c4c8c8" stroke-width="0.5"/>
<rect x="383.62" y="254.50" width="7.62" height="5.00" fill="#eef4ec" stroke="#c4c8c8" stroke-width="0.5"/>
<rect x="391.24" y="254.50" width="7.62" height="5.00" fill="#f4a8a8" stroke="#c4c8c8" stroke-width="0.5"/>
<rect x="398.86" y="254.50" width="7.62" height="5.00" fill="#ffffff" stroke="#c4c8c8" stroke-width="0.5"/>
<rect x="406.48" y="254.50" width="7.62" height="5.00" fill="#eef4ec" stroke="#c4c8c8" stroke-width="0.5"/>
<rect x="414.10" y="254.50" width="7.62" height="5.00" fill="#f4a8a8" stroke="#c4c8c8" stroke-width="0.5"/>
<rect x="421.72" y="254.50" width="7.62" height="5.00" fill="#0000ee" stroke="#c4c8c8" stroke-width="0.5"/>
<rect x="429.34" y="254.50" width="7.62" height="5.00" fill="#9898f0" stroke="#c4c8c8" stroke-width="0.5"/>
<rect x="436.96" y="254.50" width="7.62" height="5.00" fill="#f07c7c" stroke="#c4c8c8" stroke-width="0.5"/>
<rect x="444.58" y="254.50" width="7.62" height="5.00" fill="#ffffff" stroke="#c4c8c8" stroke-width="0.5"/>
<rect x="452.20" y="254.50" width="7.62" height="5.00" fill="#ffffff" stroke="#c4c8c8" stroke-width="0.5"/>
<rect x="459.82" y="254.50" width="7.62" height="5.00" fill="#f2f0de" stroke="#c4c8c8" stroke-width="0.5"/>
<rect x="467.44" y="254.50" width="7.62" height="5.00" fill="#f0c0c0" stroke="#c4c8c8" stroke-width="0.5"/>
<rect x="376.00" y="259.50" width="7.62" height="5.00" fill="#b4b4f0" stroke="#c4c8c8" stroke-width="0.5"/>
<rect x="383.62" y="259.50" width="7.62" height="5.00" fill="#ffffff" stroke="#c4c8c8" stroke-width="0.5"/>
<rect x="391.24" y="259.50" width="7.62" height="5.00" fill="#f4a8a8" stroke="#c4c8c8" stroke-width="0.5"/>
<rect x="398.86" y="259.50" width="7.62" height="5.00" fill="#eef4ec" stroke="#c4c8c8" stroke-width="0.5"/>
<rect x="406.48" y="259.50" width="7.62" height="5.00" fill="#eef4ec" stroke="#c4c8c8" stroke-width="0.5"/>
<rect x="414.10" y="259.50" width="7.62" height="5.00" fill="#f4a8a8" stroke="#c4c8c8" stroke-width="0.5"/>
<rect x="421.72" y="259.50" width="7.62" height="5.00" fill="#0000ee" stroke="#c4c8c8" stroke-width="0.5"/>
<rect x="429.34" y="259.50" width="7.62" height="5.00" fill="#a8b4f0" stroke="#c4c8c8" stroke-width="0.5"/>
<rect x="436.96" y="259.50" width="7.62" height="5.00" fill="#f07c7c" stroke="#c4c8c8" stroke-width="0.5"/>
<rect x="444.58" y="259.50" width="7.62" height="5.00" fill="#eef4ec" stroke="#c4c8c8" stroke-width="0.5"/>
<rect x="452.20" y="259.50" width="7.62" height="5.00" fill="#f2f0de" stroke="#c4c8c8" stroke-width="0.5"/>
<rect x="459.82" y="259.50" width="7.62" height="5.00" fill="#ffffff" stroke="#c4c8c8" stroke-width="0.5"/>
<rect x="467.44" y="259.50" width="7.62" height="5.00" fill="#f2f0de" stroke="#c4c8c8" stroke-width="0.5"/>
<rect x="376.00" y="264.50" width="7.62" height="5.00" fill="#eef4ec" stroke="#c4c8c8" stroke-width="0.5"/>
<rect x="383.62" y="264.50" width="7.62" height="5.00" fill="#ffffff" stroke="#c4c8c8" stroke-width="0.5"/>
<rect x="391.24" y="264.50" width="7.62" height="5.00" fill="#f4a8a8" stroke="#c4c8c8" stroke-width="0.5"/>
<rect x="398.86" y="264.50" width="7.62" height="5.00" fill="#eef4ec" stroke="#c4c8c8" stroke-width="0.5"/>
<rect x="406.48" y="264.50" width="7.62" height="5.00" fill="#ffffff" stroke="#c4c8c8" stroke-width="0.5"/>
<rect x="414.10" y="264.50" width="7.62" height="5.00" fill="#f4a8a8" stroke="#c4c8c8" stroke-width="0.5"/>
<rect x="421.72" y="264.50" width="7.62" height="5.00" fill="#0000ee" stroke="#c4c8c8" stroke-width="0.5"/>
<rect x="429.34" y="264.50" width="7.62" height="5.00" fill="#a8b4f0" stroke="#c4c8c8" stroke-width="0.5"/>
<rect x="436.96" y="264.50" width="7.62" height="5.00" fill="#f07c7c" stroke="#c4c8c8" stroke-width="0.5"/>
<rect x="444.58" y="264.50" width="7.62" height="5.00" fill="#eef4ec" stroke="#c4c8c8" stroke-width="0.5"/>
<rect x="452.20" y="264.50" width="7.62" height="5.00" fill="#f0d6d6" stroke="#c4c8c8" stroke-width="0.5"/>
<rect x="459.82" y="264.50" width="7.62" height="5.00" fill="#ffffff" stroke="#c4c8c8" stroke-width="0.5"/>
<rect x="467.44" y="264.50" width="7.62" height="5.00" fill="#f2f0de" stroke="#c4c8c8" stroke-width="0.5"/>
<rect x="376.00" y="269.50" width="7.62" height="5.00" fill="#eef4ec" stroke="#c4c8c8" stroke-width="0.5"/>
<rect x="383.62" y="269.50" width="7.62" height="5.00" fill="#ffffff" stroke="#c4c8c8" stroke-width="0.5"/>
<rect x="391.24" y="269.50" width="7.62" height="5.00" fill="#f4a8a8" stroke="#c4c8c8" stroke-width="0.5"/>
<rect x="398.86" y="269.50" width="7.62" height="5.00" fill="#ffffff" stroke="#c4c8c8" stroke-width="0.5"/>
<rect x="406.48" y="269.50" width="7.62" height="5.00" fill="#ffffff" stroke="#c4c8c8" stroke-width="0.5"/>
<rect x="414.10" y="269.50" width="7.62" height="5.00" fill="#f4a8a8" stroke="#c4c8c8" stroke-width="0.5"/>
<rect x="421.72" y="269.50" width="7.62" height="5.00" fill="#0000ee" stroke="#c4c8c8" stroke-width="0.5"/>
<rect x="429.34" y="269.50" width="7.62" height="5.00" fill="#98a8f0" stroke="#c4c8c8" stroke-width="0.5"/>
<rect x="436.96" y="269.50" width="7.62" height="5.00" fill="#f07c7c" stroke="#c4c8c8" stroke-width="0.5"/>
<rect x="444.58" y="269.50" width="7.62" height="5.00" fill="#eef4ec" stroke="#c4c8c8" stroke-width="0.5"/>
<rect x="452.20" y="269.50" width="7.62" height="5.00" fill="#eef4ec" stroke="#c4c8c8" stroke-width="0.5"/>
<rect x="459.82" y="269.50" width="7.62" height="5.00" fill="#f2f0de" stroke="#c4c8c8" stroke-width="0.5"/>
<rect x="467.44" y="269.50" width="7.62" height="5.00" fill="#f0d6d6" stroke="#c4c8c8" stroke-width="0.5"/>
<text x="478.3" y="218.5" font-size="5.2" text-anchor="start" font-weight="normal" font-style="normal" fill="#1a1a1a" >30_nsKIR</text>
<text x="478.3" y="223.5" font-size="5.2" text-anchor="start" font-weight="normal" font-style="normal" fill="#1a1a1a" >30_d-rsKIR</text>
<text x="478.3" y="228.5" font-size="5.2" text-anchor="start" font-weight="normal" font-style="normal" fill="#1a1a1a" >30_dsKIR</text>
<text x="478.3" y="233.5" font-size="5.2" text-anchor="start" font-weight="normal" font-style="normal" fill="#1a1a1a" >30_rsKIR</text>
<text x="478.3" y="238.5" font-size="5.2" text-anchor="start" font-weight="normal" font-style="normal" fill="#1a1a1a" >90_nsKIR</text>
<text x="478.3" y="243.5" font-size="5.2" text-anchor="start" font-weight="normal" font-style="normal" fill="#1a1a1a" >90_d-rsKIR</text>
<text x="478.3" y="248.5" font-size="5.2" text-anchor="start" font-weight="normal" font-style="normal" fill="#1a1a1a" >90_dsKIR</text>
<text x="478.3" y="253.5" font-size="5.2" text-anchor="start" font-weight="normal" font-style="normal" fill="#1a1a1a" >90_rsKIR</text>
<text x="478.3" y="258.5" font-size="5.2" text-anchor="start" font-weight="normal" font-style="normal" fill="#1a1a1a" >180_nsKIR</text>
<text x="478.3" y="263.5" font-size="5.2" text-anchor="start" font-weight="normal" font-style="normal" fill="#1a1a1a" >180_d-rsKIR</text>
<text x="478.3" y="268.5" font-size="5.2" text-anchor="start" font-weight="normal" font-style="normal" fill="#1a1a1a" >180_dsKIR</text>
<text x="478.3" y="273.5" font-size="5.2" text-anchor="start" font-weight="normal" font-style="normal" fill="#1a1a1a" >180_rsKIR</text>
<text x="0" y="0" font-size="5.0" text-anchor="end" fill="#1a1a1a" transform="translate(382.01,278.20) rotate(-45)">MFI of DNAM-1</text>
<text x="0" y="0" font-size="5.0" text-anchor="end" fill="#1a1a1a" transform="translate(389.63,278.20) rotate(-45)">MFI of CD25</text>
<text x="0" y="0" font-size="5.0" text-anchor="end" fill="#1a1a1a" transform="translate(397.25,278.20) rotate(-45)">MFI of NKP30</text>
<text x="0" y="0" font-size="5.0" text-anchor="end" fill="#1a1a1a" transform="translate(404.87,278.20) rotate(-45)">MFI of NKP46</text>
<text x="0" y="0" font-size="5.0" text-anchor="end" fill="#1a1a1a" transform="translate(412.49,278.20) rotate(-45)">MFI of CD122</text>
<text x="0" y="0" font-size="5.0" text-anchor="end" fill="#1a1a1a" transform="translate(420.11,278.20) rotate(-45)">MFI of Bcl-2</text>
<text x="0" y="0" font-size="5.0" text-anchor="end" fill="#1a1a1a" transform="translate(427.73,278.20) rotate(-45)">DNAM-1</text>
<text x="0" y="0" font-size="5.0" text-anchor="end" fill="#1a1a1a" transform="translate(435.35,278.20) rotate(-45)">CD122</text>
<text x="0" y="0" font-size="5.0" text-anchor="end" fill="#1a1a1a" transform="translate(442.97,278.20) rotate(-45)">CD25</text>
<text x="0" y="0" font-size="5.0" text-anchor="end" fill="#1a1a1a" transform="translate(450.59,278.20) rotate(-45)">NKP46</text>
<text x="0" y="0" font-size="5.0" text-anchor="end" fill="#1a1a1a" transform="translate(458.21,278.20) rotate(-45)">NKP30</text>
<text x="0" y="0" font-size="5.0" text-anchor="end" fill="#1a1a1a" transform="translate(465.83,278.20) rotate(-45)">CD107a</text>
<text x="0" y="0" font-size="5.0" text-anchor="end" fill="#1a1a1a" transform="translate(473.45,278.20) rotate(-45)">IFNγ</text>
<text x="410.0" y="307.7" font-size="7.05" text-anchor="start" font-weight="normal" font-style="normal" fill="#1a1a1a" >The Methods to adjust the data</text>
<text x="410.0" y="316.5" font-size="7.05" text-anchor="start" font-weight="normal" font-style="normal" fill="#1a1a1a" >MFI of DNAM-1 <tspan dx="1">/</tspan> <tspan dx="1">100</tspan></text>
<text x="410.0" y="325.3" font-size="7.05" text-anchor="start" font-weight="normal" font-style="normal" fill="#1a1a1a" >MFI of Bcl-2 <tspan dx="1">/</tspan> <tspan dx="1">100</tspan></text>
<text x="410.0" y="334.09999999999997" font-size="7.05" text-anchor="start" font-weight="normal" font-style="normal" fill="#1a1a1a" >MFI of NKP30 <tspan dx="1">/</tspan> <tspan dx="1">10</tspan></text>
<text x="410.0" y="342.9" font-size="7.05" text-anchor="start" font-weight="normal" font-style="normal" fill="#1a1a1a" >MFI of NKP46 <tspan dx="1">/</tspan> <tspan dx="1">10</tspan></text>
<text x="410.0" y="351.7" font-size="7.05" text-anchor="start" font-weight="normal" font-style="normal" fill="#1a1a1a" >MFI of CD122 <tspan dx="1">/</tspan> <tspan dx="1">10</tspan></text>
<text x="410.0" y="360.5" font-size="7.05" text-anchor="start" font-weight="normal" font-style="normal" fill="#1a1a1a" >CD25<tspan dx="0.4">*</tspan><tspan dx="0.4">10</tspan></text>
<rect x="0.5" y="0.5" width="519" height="368" fill="none" stroke="#000" stroke-width="1"/>
</svg>
</body></html>
